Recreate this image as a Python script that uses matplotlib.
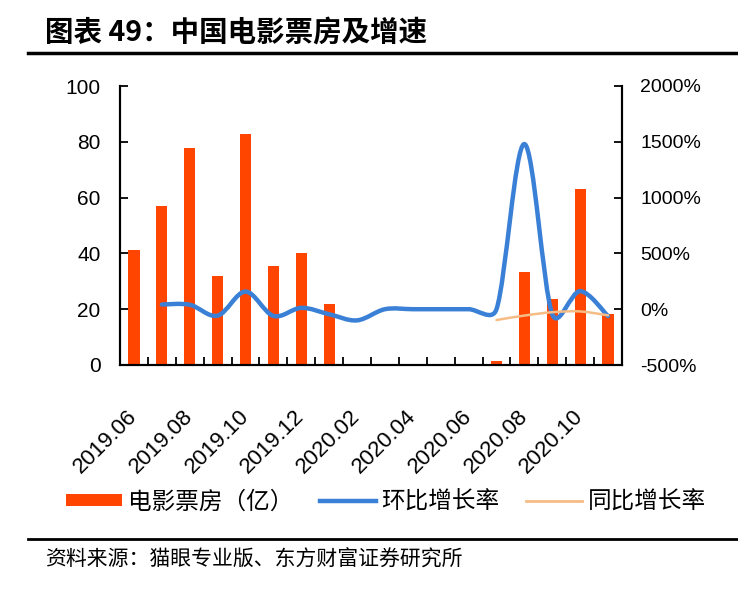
import numpy as np
import matplotlib
matplotlib.use("Agg")
import matplotlib.pyplot as plt
from matplotlib.path import Path
from matplotlib.patches import PathPatch, Patch
from matplotlib.lines import Line2D

plt.rcParams['font.family'] = ['Liberation Sans', 'Noto Sans CJK SC', 'DejaVu Sans']

# data
months = ['2019.06', '2019.07', '2019.08', '2019.09', '2019.10', '2019.11',
          '2019.12', '2020.01', '2020.02', '2020.03', '2020.04', '2020.05',
          '2020.06', '2020.07', '2020.08', '2020.09', '2020.10', '2020.11']
box_office = [41.2, 57.1, 77.9, 31.9, 82.8, 35.5, 40.3, 21.9, 0, 0, 0, 0, 0,
              1.5, 33.4, 23.8, 63.1, 18.3]
mom_growth = [np.nan, 42, 40, -58, 158, -60, 12, -45, -100, 0, 0, 0, 0,
              0, 1480, -45, 162, -62]
yoy_growth = [np.nan] * 13 + [-97, -57, -27, -20, -55]

BAR_C = '#FF4500'
BLUE = '#3A80D6'
ORANGE = '#F6BC86'
CJK = ['Noto Sans CJK SC', 'DejaVu Sans']


def smooth_path(xs, ys, sx, sy, lim=0.5):
    # Excel-like smoothed line: catmull-rom bezier, control arms capped
    pts = np.column_stack([np.asarray(xs, float) * sx, np.asarray(ys, float) * sy])
    n = len(pts)
    verts = [pts[0]]
    codes = [Path.MOVETO]
    for i in range(n - 1):
        p0, p1 = pts[max(i - 1, 0)], pts[i]
        p2, p3 = pts[i + 1], pts[min(i + 2, n - 1)]
        seg = np.hypot(*(p2 - p1))
        t1 = (p2 - p0) / 6
        t2 = (p3 - p1) / 6
        for t in (t1, t2):
            L = np.hypot(*t)
            if L > lim * seg:
                t *= lim * seg / L
        verts += [p1 + t1, p2 - t2, p2]
        codes += [Path.CURVE4] * 3
    return Path(np.array(verts) / [sx, sy], codes)


fig = plt.figure(figsize=(7.38, 6.0), dpi=100)
ax = fig.add_axes([120 / 738, 1 - 365 / 600, 502 / 738, 279 / 600])
ax2 = ax.twinx()

x = np.arange(len(months))
ax.bar(x, box_office, width=0.4, color=BAR_C, zorder=2)
ax.set_xlim(-0.5, len(months) - 0.5)
ax.set_ylim(0, 100)
ax.set_yticks(range(0, 101, 20))

ax2.set_ylim(-500, 2000)
ax2.set_yticks(range(-500, 2001, 500))
ax2.set_yticklabels([f'{v}%' for v in range(-500, 2001, 500)])

# pixel scale of the axes for the smoothing
sx, sy = 502 / len(months), 279 / 2500

mom = np.array(mom_growth, float)
ok = ~np.isnan(mom)
ax2.add_patch(PathPatch(smooth_path(x[ok], mom[ok], sx, sy), fill=False,
                        edgecolor=BLUE, lw=3.2, capstyle='round', joinstyle='round'))
yoy = np.array(yoy_growth, float)
ok = ~np.isnan(yoy)
ax2.add_patch(PathPatch(smooth_path(x[ok], yoy[ok], sx, sy), fill=False,
                        edgecolor=ORANGE, lw=1.8, capstyle='round', joinstyle='round'))

for a in (ax, ax2):
    a.spines['top'].set_visible(False)
    for s in ('left', 'right', 'bottom'):
        a.spines[s].set_linewidth(1.5)
ax.tick_params(axis='y', direction='in', length=6, width=1.3, labelsize=15, pad=14)
ax2.tick_params(axis='y', direction='in', length=6, width=1.3, labelsize=14, pad=13)

ax.set_xticks(x[::2])
ax.set_xticklabels(months[::2], rotation=45, ha='right', va='center',
                   rotation_mode='anchor', fontsize=16)
ax.set_xticks(np.arange(0.5, len(months) - 1, 1), minor=True)
ax.tick_params(axis='x', which='major', length=0, pad=35)
ax.tick_params(axis='x', which='minor', direction='in', length=6, width=1.3)

# title and rules
fig.text(45 / 738, 1 - 33 / 600, '图表 49：中国电影票房及增速', fontsize=20.5,
         fontweight='bold', family=CJK, ha='left', va='center')
fig.add_artist(Line2D([28 / 738, 1], [1 - 53 / 600] * 2, color='black', lw=2.5,
                      transform=fig.transFigure))
fig.add_artist(Line2D([28 / 738, 1], [1 - 539 / 600] * 2, color='black', lw=2.0,
                      transform=fig.transFigure))
fig.text(45 / 738, 1 - 560 / 600, '资料来源：猫眼专业版、东方财富证券研究所', fontsize=15,
         family=CJK, ha='left', va='center')

handles = [Patch(facecolor=BAR_C),
           Line2D([], [], color=BLUE, lw=3.2),
           Line2D([], [], color=ORANGE, lw=2)]
labels = ['电影票房（亿）', '环比增长率', '同比增长率']
fig.legend(handles, labels, loc='center', bbox_to_anchor=(386 / 738, 1 - 502 / 600),
           ncol=3, frameon=False, prop={'family': CJK, 'size': 17},
           handlelength=2.37, handleheight=0.42, handletextpad=0.25, columnspacing=1.1)

fig.savefig('out.png', dpi=100, facecolor='white')
